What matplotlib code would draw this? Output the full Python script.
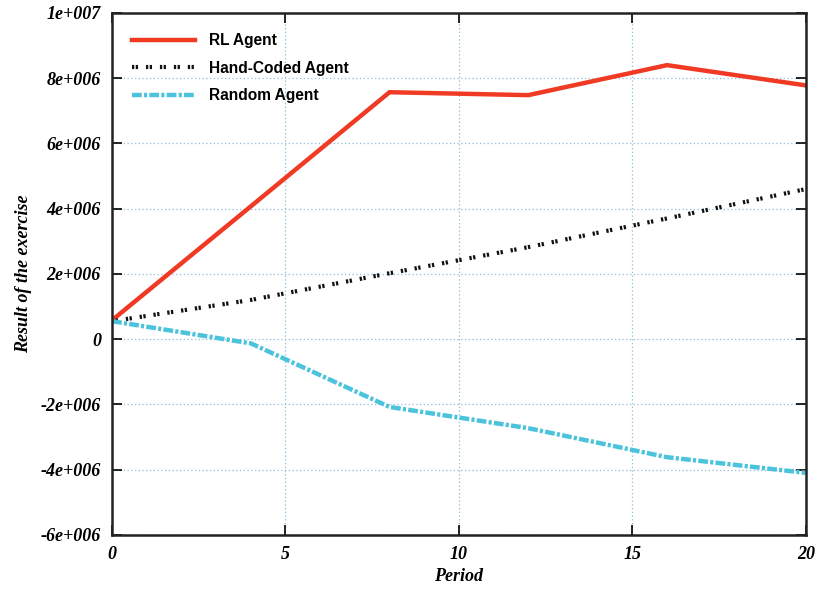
import matplotlib
matplotlib.use("Agg")
import matplotlib.pyplot as plt
from matplotlib.ticker import FuncFormatter

# data
periods = [0, 4, 8, 12, 16, 20]
rl_agent = [0.58e6, 4.07e6, 7.57e6, 7.48e6, 8.40e6, 7.78e6]
hand_coded = [0.55e6, 1.20e6, 2.02e6, 2.82e6, 3.70e6, 4.60e6]
random_agent = [0.55e6, -0.13e6, -2.08e6, -2.73e6, -3.62e6, -4.10e6]

x_ticks = [0, 5, 10, 15, 20]
y_ticks = [-6e6, -4e6, -2e6, 0, 2e6, 4e6, 6e6, 8e6, 1e7]


def gnuplot_sci(v, pos):
    # gnuplot on windows style: 2e+006
    if v == 0:
        return "0"
    mant, exp = f"{v:.0e}".split("e")
    return f"{mant}e{exp[0]}{int(exp[1:]):03d}"


fig = plt.figure(figsize=(8.18, 5.89), dpi=100)
ax = fig.add_axes([0.137, 0.092, 0.848, 0.886])

ax.plot(periods, rl_agent, color="#f03a24", lw=3.2, label="RL Agent",
        solid_joinstyle="miter")
ax.plot(periods, hand_coded, color="#111111", lw=3.0,
        linestyle=(0, (0.55, 0.35, 0.55, 1.9)), label="Hand-Coded Agent")
ax.plot(periods, random_agent, color="#4cc3dc", lw=3.2,
        linestyle=(0, (2.2, 0.5, 0.7, 0.5)), label="Random Agent")

ax.set_xlim(0, 20)
ax.set_ylim(-6e6, 1e7)
ax.set_xticks(x_ticks)
ax.set_yticks(y_ticks)
ax.yaxis.set_major_formatter(FuncFormatter(gnuplot_sci))

ax.grid(True, color="#8fbfd8", linestyle=(0, (1, 2)), lw=0.9)
ax.tick_params(direction="in", length=7, width=1.2, top=True, right=True,
               pad=8)
for lab in ax.get_xticklabels() + ax.get_yticklabels():
    lab.set_fontfamily("Liberation Serif")
    lab.set_fontweight("bold")
    lab.set_fontstyle("italic")
    lab.set_fontsize(13)
for sp in ax.spines.values():
    sp.set_linewidth(1.8)
    sp.set_color("#222222")

ax.set_xlabel("Period", family="Liberation Serif", weight="bold",
              style="italic", fontsize=13, labelpad=4)
ax.set_ylabel("Result of the exercise", family="Liberation Serif",
              weight="bold", style="italic", fontsize=13, labelpad=6)

leg = ax.legend(loc="upper left", frameon=False, handlelength=4.0,
                handletextpad=0.9, labelspacing=0.8, borderaxespad=0.8,
                borderpad=0.5,
                prop={"family": "Liberation Sans", "weight": "bold", "size": 11.2})

fig.savefig("out.png", dpi=100)
